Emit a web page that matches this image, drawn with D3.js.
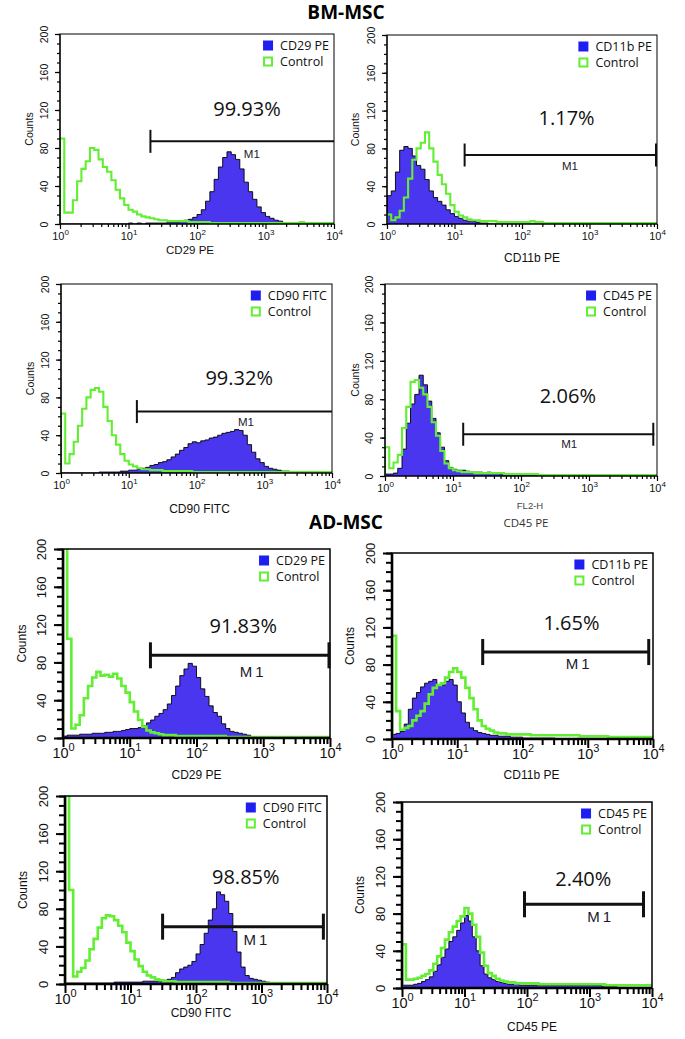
<!DOCTYPE html>
<html><head><meta charset="utf-8">
<script src="https://cdn.jsdelivr.net/npm/d3@7"></script>
<style>body{margin:0;background:#fff} svg{display:block}</style>
</head><body>
<svg id="c" width="685" height="1039"></svg>
<script>
// ---------------- data ----------------
const BINS_PER_DECADE = 16;            // histogram channels per decade (4 decades)
const xTickExponents = [0, 1, 2, 3, 4];
const yTicks = [0, 40, 80, 120, 160, 200];
const groupTitles = ["BM-MSC", "AD-MSC"];
const markerNames = ["CD29 PE", "CD11b PE", "CD90 FITC", "CD45 PE", "CD29 PE", "CD11b PE", "CD90 FITC", "CD45 PE"];
const controlName = "Control";
const xTitles = ["CD29 PE", "CD11b PE", "CD90 FITC", "FL2-H", "CD29 PE", "CD11b PE", "CD90 FITC", "CD45 PE"];
const percentLabels = ["99.93%", "1.17%", "99.32%", "2.06%", "91.83%", "1.65%", "98.85%", "2.40%"];
const gateFrom = [1.32, 1.15, 1.12, 1.15, 1.31, 1.39, 1.49, 1.96];   // decades
const gateTo = [4.0, 4.0, 4.0, 3.96, 4.0, 3.95, 3.96, 3.88];
const gateCount = [87, 73, 65, 43.5, 87.5, 93.5, 61, 90];
const gateRightTick = [false, true, false, true, true, true, true, true];
const pctDecade = [2.73, 2.66, 2.63, 2.69, 2.70, 2.75, 2.76, 2.90];
const pctCount = [114, 105, 93, 76, 111, 117, 106, 110];
const m1Decade = [2.80, 2.71, 2.73, 2.71, 2.85, 2.87, 2.93, 3.18];
const m1Count = [70, 57, 50, 29, 65, 75, 41, 71];

const bmCD29PE = [
0,0,0,0,0,0,0,0,0,0,0,0,0,0,0,0,
1,0,1,0,1,1,1,1,1,2,2,2,3,4,5,7,
10,15,24,34,47,60,70,76,73,68,58,44,34,26,18,12,
8,6,4,3,1,1,0,0,0,0,0,0,0,0,0,0];
const bmCD29Ctrl = [
90,12,12,25,45,58,66,80,78,68,60,55,46,36,27,20,
15,13,10,8,7,6,5,4,4,3,3,3,3,3,2,2,
2,2,2,1,1,1,1,1,1,1,1,1,1,1,1,1,
1,1,1,1,1,1,1,1,2,1,1,1,1,1,1,1];
const bmCD11bPE = [
30,35,55,78,82,80,72,62,58,47,35,28,24,20,15,11,
8,6,4,3,3,2,1,1,0,0,0,0,0,0,0,0,
0,0,0,0,0,0,0,0,0,0,0,0,0,0,0,0,
0,0,0,0,0,0,0,0,0,0,0,0,0,0,0,0];
const bmCD11bCtrl = [
10,4,7,14,28,48,68,80,86,97,80,66,52,42,32,20,
13,9,7,5,4,4,3,3,3,3,2,2,2,2,2,2,
2,2,3,2,2,1,1,1,1,1,1,1,1,1,1,1,
1,1,1,1,1,1,1,1,1,1,1,1,1,1,1,1];
const bmCD90FITC = [
0,0,0,0,0,0,0,0,0,1,1,1,1,1,2,2,
3,3,4,5,6,8,9,11,12,14,17,20,24,27,31,33,
32,34,35,37,38,40,42,43,44,46,45,40,30,22,15,11,
7,5,4,3,2,2,1,1,0,0,0,0,0,0,0,0];
const bmCD90Ctrl = [
63,10,20,33,50,68,80,88,90,86,70,55,40,30,20,13,
9,7,5,4,4,3,3,3,2,2,2,2,2,2,2,1,
1,1,1,1,1,1,1,1,1,1,1,1,1,1,1,1,
1,1,1,1,1,1,1,1,1,1,1,1,1,1,1,1];
const bmCD45PE = [
2,2,3,8,28,55,75,85,105,95,78,60,45,30,16,9,
7,6,6,5,4,4,4,3,4,3,3,2,2,2,1,1,
1,1,1,1,0,0,0,0,0,0,0,0,0,0,0,0,
0,0,0,0,0,0,0,0,0,0,0,0,0,0,0,0];
const bmCD45Ctrl = [
30,8,14,22,50,72,98,100,92,85,72,56,42,26,13,8,
6,5,4,4,4,3,3,3,3,3,3,3,2,2,2,2,
2,2,2,2,1,1,1,1,1,1,1,1,1,1,1,1,
1,1,1,1,1,1,1,1,1,1,1,1,1,1,1,1];
const adCD29PE = [
2,3,3,3,4,4,4,5,5,5,6,6,7,7,8,9,
10,10,11,13,16,19,23,26,30,36,45,55,66,73,79,76,
64,52,44,34,27,23,15,10,7,6,5,4,3,0,0,0,
0,0,0,0,0,0,0,0,0,0,0,0,0,0,0,0];
const adCD29Ctrl = [
230,105,10,14,24,42,55,64,70,66,67,65,68,63,55,48,
38,28,19,12,8,6,5,4,3,3,3,2,2,2,2,2,
2,2,2,2,2,2,2,1,1,1,1,1,1,1,1,1,
1,1,1,1,1,1,1,1,1,1,1,1,1,1,1,1];
const adCD11bPE = [
5,6,8,16,32,44,50,56,60,62,64,58,58,62,64,58,
40,28,18,12,9,7,6,5,4,4,3,3,3,2,2,2,
1,1,1,1,1,1,1,1,0,0,0,0,0,0,0,0,
0,0,0,0,0,0,0,0,0,0,0,0,0,0,0,0];
const adCD11bCtrl = [
111,30,10,12,14,20,25,30,38,48,55,58,60,66,72,76,
72,66,55,44,32,20,14,11,9,7,6,6,5,5,5,5,
5,5,4,4,4,4,4,4,4,4,4,4,4,4,3,3,
3,3,3,3,3,2,2,2,2,2,2,2,2,2,2,2];
const adCD90FITC = [
1,1,1,1,1,1,1,1,1,1,1,1,2,2,2,2,
2,2,2,3,3,3,3,3,4,5,7,12,16,18,20,24,
32,42,54,68,80,98,95,88,75,56,34,18,9,6,5,4,
3,2,1,0,0,0,0,0,0,0,0,0,0,0,0,0];
const adCD90Ctrl = [
230,100,8,13,17,25,37,48,60,70,73,72,68,62,55,44,
35,26,19,13,9,7,5,4,3,3,3,2,2,2,2,2,
2,2,2,2,2,2,2,2,1,1,1,1,1,1,1,1,
1,1,1,1,1,1,1,1,1,1,1,1,1,1,1,1];
const adCD45PE = [
3,3,3,4,5,7,9,12,18,25,33,42,50,55,62,70,
78,72,55,40,24,15,11,9,7,6,5,4,4,4,3,3,
3,3,3,3,3,3,3,3,3,3,3,3,3,3,3,3,
3,3,3,2,2,2,2,0,0,0,0,0,0,0,0,0];
const adCD45Ctrl = [
47,9,9,10,11,13,15,19,26,34,43,52,60,66,72,77,
86,80,68,55,38,24,16,13,10,8,7,6,6,5,5,5,
5,5,5,4,4,4,4,4,4,4,4,4,4,4,4,4,
4,4,4,4,3,3,3,3,3,3,3,3,3,3,3,3];

const stainedSeries = [bmCD29PE, bmCD11bPE, bmCD90FITC, bmCD45PE, adCD29PE, adCD11bPE, adCD90FITC, adCD45PE];
const controlSeries = [bmCD29Ctrl, bmCD11bCtrl, bmCD90Ctrl, bmCD45Ctrl, adCD29Ctrl, adCD11bCtrl, adCD90Ctrl, adCD45Ctrl];

// ---------------- layout / style ----------------
const layout = [
  {L:60,  T:34,  R:334, B:224, big:false, titleDx:-7, titleDy:30, countsDx:31},
  {L:387, T:35,  R:657, B:224, big:false, titleDx:10, titleDy:38, countsDx:32},
  {L:61,  T:284, R:332, B:473, big:false, titleDx:3,  titleDy:40, countsDx:31},
  {L:385, T:284, R:657, B:476, big:false, titleDx:9,  titleDy:33, countsDx:30},
  {L:63,  T:549, R:330, B:738, big:true,  titleDx:0,  titleDy:41, countsDx:41},
  {L:392, T:553, R:653, B:739, big:true,  titleDx:9,  titleDy:40, countsDx:42},
  {L:65,  T:796, R:327, B:984, big:true,  titleDx:5,  titleDy:33, countsDx:42},
  {L:402, T:802, R:652, B:988, big:true,  titleDx:5,  titleDy:43, countsDx:42}
];
const BLUE_FILL = "#4a36ee", BLUE_KEY = "#1e1ef0", GREEN = "#62ee33";
const AX_FONT = "'Liberation Sans', Arial, sans-serif";
const TXT_FONT = "'Open Sans', sans-serif";

const svg = d3.select("#c");

// group titles
svg.append("text").attr("x", 346).attr("y", 19).attr("text-anchor", "middle")
  .attr("font-family", TXT_FONT).attr("font-weight", 700).attr("font-size", 19).text(groupTitles[0]);
svg.append("text").attr("x", 346).attr("y", 529).attr("text-anchor", "middle")
  .attr("font-family", TXT_FONT).attr("font-weight", 700).attr("font-size", 19).text(groupTitles[1]);

function stepPoints(vals) {
  const pts = [[1, 0]];
  vals.forEach((v, i) => {
    pts.push([Math.pow(10, i / BINS_PER_DECADE), v]);
    pts.push([Math.pow(10, (i + 1) / BINS_PER_DECADE), v]);
  });
  pts.push([1e4, 0]);
  return pts;
}

layout.forEach((p, k) => {
  const big = p.big;
  const x = d3.scaleLog().domain([1, 1e4]).range([p.L, p.R]);
  const y = d3.scaleLinear().domain([0, 200]).range([p.B, p.T]);
  const g = svg.append("g");
  const clipId = "clip" + k;
  g.append("clipPath").attr("id", clipId).append("rect")
    .attr("x", p.L).attr("y", p.T).attr("width", p.R - p.L).attr("height", p.B - p.T);
  const plot = g.append("g").attr("clip-path", `url(#${clipId})`);

  const sPts = stepPoints(stainedSeries[k]);
  const cPts = stepPoints(controlSeries[k]);
  const area = d3.area().x(d => x(d[0])).y0(y(0)).y1(d => y(d[1]));
  const line = d3.line().x(d => x(d[0])).y(d => y(d[1]));

  plot.append("path").attr("d", area(sPts)).attr("fill", BLUE_FILL);
  plot.append("path").attr("d", line(sPts)).attr("fill", "none").attr("stroke", "#000").attr("stroke-width", 0.9);
  plot.append("path").attr("d", line(cPts)).attr("fill", "none").attr("stroke", GREEN)
    .attr("stroke-width", big ? 2.6 : 2.1).attr("stroke-linejoin", "miter");

  // box
  g.append("rect").attr("x", p.L).attr("y", p.T).attr("width", p.R - p.L).attr("height", p.B - p.T)
    .attr("fill", "none").attr("stroke", "#000").attr("stroke-width", big ? 1.5 : 1);

  const tickW = big ? 2 : 1.2;
  const majLen = big ? 9 : 5, minLen = big ? 6 : 3;

  // y axis (minor + major)
  const yMinor = g.append("g").attr("transform", `translate(${p.L},0)`)
    .call(d3.axisLeft(y).tickValues(d3.range(0, 201, 10)).tickSize(minLen).tickFormat(""));
  yMinor.select(".domain").remove();
  yMinor.selectAll("line").attr("stroke-width", tickW);
  const yAx = g.append("g").attr("transform", `translate(${p.L},0)`)
    .call(d3.axisLeft(y).tickValues(yTicks).tickSize(majLen).tickFormat(d3.format("d")));
  yAx.attr("font-family", AX_FONT).attr("font-size", big ? 13 : 10.5);
  yAx.select(".domain").attr("stroke-width", big ? 2.6 : 1.2).attr("d", `M0,${p.B}V${p.T}`);
  yAx.selectAll("line").attr("stroke-width", tickW);
  yAx.selectAll("text").attr("transform", "rotate(-90)").attr("x", 0).attr("dy", 0)
    .attr("y", big ? -17 : -12).attr("text-anchor", "middle").attr("fill", "#111");

  // x axis (minor + major)
  const minorVals = [];
  xTickExponents.slice(0, -1).forEach(e => { for (let m = 2; m <= 9; m++) minorVals.push(m * Math.pow(10, e)); });
  const xMinor = g.append("g").attr("transform", `translate(0,${p.B})`)
    .call(d3.axisBottom(x).tickValues(minorVals).tickSize(minLen).tickFormat(""));
  xMinor.select(".domain").remove();
  xMinor.selectAll("line").attr("stroke-width", tickW);
  const xAx = g.append("g").attr("transform", `translate(0,${p.B})`)
    .call(d3.axisBottom(x).tickValues(xTickExponents.map(e => Math.pow(10, e))).tickSize(majLen).tickFormat(""));
  xAx.attr("font-family", AX_FONT).attr("font-size", big ? 14.5 : 11);
  xAx.select(".domain").attr("stroke-width", big ? 2.6 : 1.2).attr("d", `M${p.L},0H${p.R}`);
  xAx.selectAll("line").attr("stroke-width", tickW);
  xAx.selectAll(".tick text").each(function(d, i) {
    const t = d3.select(this);
    t.text(null).attr("y", big ? 20 : 16).attr("dy", 0).attr("fill", "#111").attr("text-anchor", "middle");
    t.append("tspan").text("10");
    t.append("tspan").attr("dy", big ? -7 : -5).attr("font-size", big ? 11 : 8).text(xTickExponents[i]);
  });

  // axis titles
  const cx = (p.L + p.R) / 2;
  g.append("text").attr("transform", `translate(${p.L - p.countsDx},${(p.T + p.B) / 2}) rotate(-90)`)
    .attr("text-anchor", "middle").attr("dy", "0.35em").attr("font-family", AX_FONT)
    .attr("font-size", big ? 12 : 10.5).attr("fill", "#111").text("Counts");
  if (k === 3) {
    g.append("text").attr("x", cx + p.titleDx).attr("y", p.B + p.titleDy).attr("text-anchor", "middle")
      .attr("font-family", AX_FONT).attr("font-size", 9.5).attr("fill", "#444").text(xTitles[k]);
    g.append("text").attr("x", cx + 5).attr("y", p.B + 51).attr("text-anchor", "middle")
      .attr("font-family", TXT_FONT).attr("font-size", 11.5).attr("fill", "#333").text(markerNames[k]);
  } else {
    g.append("text").attr("x", cx + p.titleDx).attr("y", p.B + p.titleDy).attr("text-anchor", "middle")
      .attr("font-family", AX_FONT).attr("font-size", k === 0 ? 11.5 : 12).attr("fill", "#111").text(xTitles[k]);
  }

  // gate marker M1
  const gy = y(gateCount[k]);
  const half = big ? 13 : 11.5;
  const gw = big ? 3 : 2;
  g.append("line").attr("x1", x(Math.pow(10, gateFrom[k]))).attr("x2", x(Math.pow(10, gateTo[k])))
    .attr("y1", gy).attr("y2", gy).attr("stroke", "#111").attr("stroke-width", gw);
  g.append("line").attr("x1", x(Math.pow(10, gateFrom[k]))).attr("x2", x(Math.pow(10, gateFrom[k])))
    .attr("y1", gy - half).attr("y2", gy + half).attr("stroke", "#111").attr("stroke-width", gw);
  if (gateRightTick[k]) {
    g.append("line").attr("x1", x(Math.pow(10, gateTo[k])) - 1).attr("x2", x(Math.pow(10, gateTo[k])) - 1)
      .attr("y1", gy - half).attr("y2", gy + half).attr("stroke", "#111").attr("stroke-width", gw);
  }
  g.append("text").attr("x", x(Math.pow(10, m1Decade[k]))).attr("y", y(m1Count[k]))
    .attr("text-anchor", "middle").attr("font-family", AX_FONT)
    .attr("font-size", big ? 15 : 11.5).attr("letter-spacing", big ? 3 : 0)
    .attr("fill", "#1a1a2e").text("M1");

  // percent
  g.append("text").attr("x", x(Math.pow(10, pctDecade[k]))).attr("y", y(pctCount[k]))
    .attr("text-anchor", "middle").attr("font-family", TXT_FONT).attr("font-size", 20)
    .attr("fill", "#111").text(percentLabels[k]);

  // legend
  const lg = g.append("g");
  const t1 = lg.append("text").attr("font-family", TXT_FONT).attr("font-size", 12.5).attr("fill", "#111").text(markerNames[k]);
  const t2 = lg.append("text").attr("font-family", TXT_FONT).attr("font-size", 12.5).attr("fill", "#111").text(controlName);
  const w = Math.max(t1.node().getComputedTextLength(), t2.node().getComputedTextLength());
  const tx = p.R - 5 - w;
  const r1 = p.T + 11.5, r2 = p.T + 27.5;
  t1.attr("x", tx).attr("y", r1 + 4.5);
  t2.attr("x", tx).attr("y", r2 + 4.5);
  lg.append("rect").attr("x", tx - 17).attr("y", r1 - 5).attr("width", 10).attr("height", 10).attr("fill", BLUE_KEY);
  lg.append("rect").attr("x", tx - 16).attr("y", r2 - 4).attr("width", 8).attr("height", 8)
    .attr("fill", "#fff").attr("stroke", GREEN).attr("stroke-width", 2);
});
</script>
</body></html>
